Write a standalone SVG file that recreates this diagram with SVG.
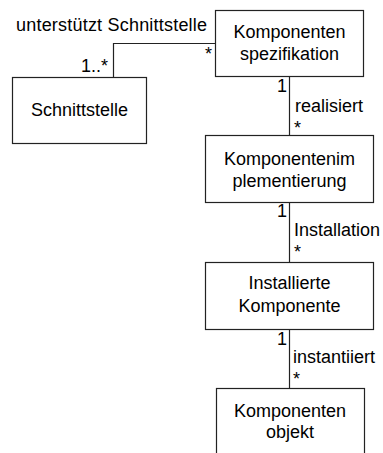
<svg xmlns="http://www.w3.org/2000/svg" width="383" height="453" viewBox="0 0 383 453">
  <style>
    .box { fill: #fff; stroke: #222; stroke-width: 1.2; }
    .edge { fill: none; stroke: #222; stroke-width: 1.2; }
    text { font-family: "Liberation Sans", Arial, sans-serif; font-size: 18px; fill: #000; }
    .c { text-anchor: middle; }
  </style>
  <rect width="383" height="453" fill="#fff"/>

  <g id="connectors">
    <polyline class="edge" points="113.5,77 113.5,43.5 215,43.5"/>
    <line class="edge" x1="289.5" y1="76" x2="289.5" y2="135"/>
    <line class="edge" x1="289.5" y1="202" x2="289.5" y2="262"/>
    <line class="edge" x1="289.5" y1="329" x2="289.5" y2="388"/>
    <text x="16" y="31" textLength="191">unterstützt Schnittstelle</text>
    <text x="81" y="72">1..*</text>
    <text x="205" y="60">*</text>
    <text x="277" y="92">1</text>
    <text x="295" y="112">realisiert</text>
    <text x="294" y="134">*</text>
    <text x="277" y="217">1</text>
    <text x="294" y="236">Installation</text>
    <text x="294" y="258">*</text>
    <text x="277" y="345">1</text>
    <text x="293" y="363">instantiiert</text>
    <text x="293" y="385">*</text>
  </g>

  <g id="spezifikation">
    <rect class="box" x="215.5" y="10.5" width="148" height="66"/>
    <text class="c" x="289.5" y="38">Komponenten</text>
    <text class="c" x="289.5" y="60">spezifikation</text>
  </g>

  <g id="schnittstelle">
    <rect class="box" x="12.5" y="77.5" width="134" height="66"/>
    <text class="c" x="79.5" y="116">Schnittstelle</text>
  </g>

  <g id="implementierung">
    <rect class="box" x="205.5" y="135.5" width="168" height="67"/>
    <text class="c" x="289.5" y="165">Komponentenim</text>
    <text class="c" x="289.5" y="187">plementierung</text>
  </g>

  <g id="installiert">
    <rect class="box" x="205.5" y="262.5" width="168" height="67"/>
    <text class="c" x="289.5" y="289">Installierte</text>
    <text class="c" x="289.5" y="312">Komponente</text>
  </g>

  <g id="objekt">
    <rect class="box" x="216.5" y="388.5" width="148" height="80"/>
    <text class="c" x="290" y="417">Komponenten</text>
    <text class="c" x="290" y="438">objekt</text>
  </g>
</svg>
